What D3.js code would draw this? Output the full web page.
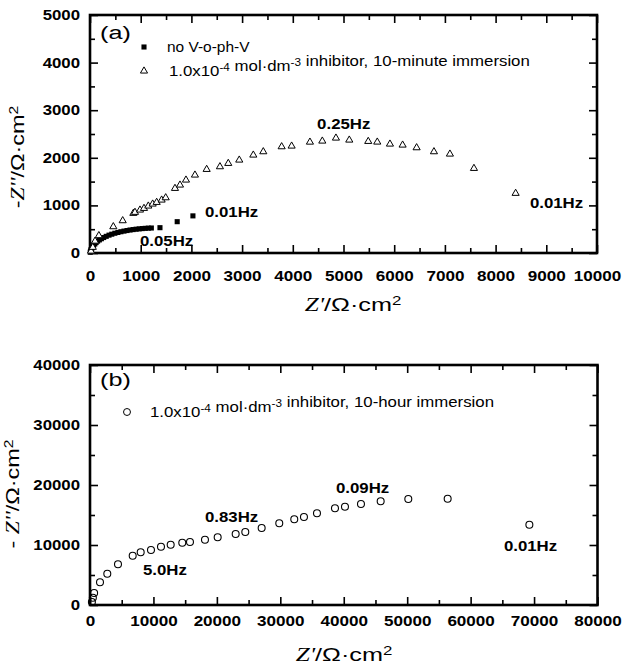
<!DOCTYPE html>
<html>
<head>
<meta charset="utf-8">
<script src="https://cdn.jsdelivr.net/npm/d3@7"></script>
<style>
  html, body { margin: 0; padding: 0; background: #fff; }
  svg { display: block; }
  .tick text { font-family: "Liberation Sans", Arial, sans-serif; font-weight: bold; font-size: 14px; fill: #000; }
  .domain { display: none; }
  .tick line { stroke: #000; stroke-width: 1.6; }
</style>
</head>
<body>
<script>
// Panel (a): impedance without inhibitor (filled squares) and after 10 min immersion (open triangles)
const noInhibitorRe = [5, 10, 20, 35, 50, 70, 95, 120, 150, 185, 225, 270, 320, 375, 430, 490, 550, 610, 670, 730, 790, 850, 910, 970, 1030, 1090, 1150, 1210, 1380, 1720, 2030];
const noInhibitorIm = [15, 40, 70, 100, 130, 160, 190, 220, 250, 275, 300, 325, 350, 375, 395, 415, 432, 447, 460, 472, 483, 492, 500, 507, 513, 518, 522, 525, 532, 658, 780];

const minuteRe = [20, 55, 100, 175, 460, 645, 855, 887, 986, 1065, 1150, 1236, 1315, 1413, 1493, 1676, 1775, 1893, 2070, 2301, 2563, 2727, 2944, 3221, 3418, 3780, 3977, 4338, 4582, 4851, 5114, 5488, 5666, 5916, 6166, 6442, 6784, 7099, 7573, 8395];
const minuteIm = [40, 120, 250, 365, 553, 679, 834, 855, 903, 938, 987, 1029, 1064, 1113, 1161, 1358, 1428, 1533, 1638, 1757, 1813, 1883, 1953, 2058, 2128, 2233, 2247, 2330, 2352, 2415, 2373, 2345, 2331, 2289, 2268, 2212, 2128, 2079, 1778, 1254];

// Panel (b): after 10 h immersion (open circles)
const hourRe = [300, 450, 650, 1576, 2727, 4413, 6730, 7990, 9613, 11190, 12718, 14545, 15760, 18124, 20125, 22962, 24480, 27060, 29836, 32200, 33728, 35780, 38617, 40193, 42715, 45820, 50175, 56380, 69260];
const hourIm = [500, 1200, 2000, 3783, 5217, 6783, 8217, 8783, 9167, 9717, 10050, 10383, 10500, 10883, 11283, 11833, 12167, 12833, 13617, 14283, 14667, 15283, 16117, 16383, 16833, 17283, 17667, 17717, 13383];

// Frequency annotations (text, Z', -Z'')
const freqLabelsA = [["0.25Hz", 4480, 2600], ["0.01Hz", 8677, 945], ["0.01Hz", 2268, 756], ["0.05Hz", 986, 147]];
const freqLabelsB = [["0.83Hz", 18124, 13890], ["5.0Hz", 8353, 5000], ["0.09Hz", 38770, 18720], ["0.01Hz", 65246, 9000]];

// Axis ticks
const xTicksA = d3.range(0, 10001, 1000);
const yTicksA = d3.range(0, 5001, 1000);
const xTicksB = d3.range(0, 80001, 10000);
const yTicksB = d3.range(0, 40001, 10000);

const W = 633, H = 669;
const svg = d3.select("body").append("svg").attr("width", W).attr("height", H);

const sans = '"Liberation Sans", Arial, sans-serif';
const serif = '"Liberation Serif", "Times New Roman", serif';

// Widen text horizontally (the figure's lettering is broad)
function stretch(sel, k) {
  sel.each(function () {
    const w = this.getComputedTextLength();
    d3.select(this).attr("textLength", w * k).attr("lengthAdjust", "spacingAndGlyphs");
  });
}

function frame(g, x, y, xTicks, yTicks, xMinor, yMinor, xPad) {
  const [x0, x1] = x.range();
  const [y0, y1] = y.range();
  // minor ticks on all four sides
  const minor = (axis, scale, vals) => axis(scale).tickValues(vals).tickSize(-5).tickFormat("");
  g.append("g").attr("transform", `translate(0,${y0})`).call(minor(d3.axisBottom, x, xMinor));
  g.append("g").attr("transform", `translate(0,${y1})`).call(minor(d3.axisTop, x, xMinor));
  g.append("g").attr("transform", `translate(${x0},0)`).call(minor(d3.axisLeft, y, yMinor));
  g.append("g").attr("transform", `translate(${x1},0)`).call(minor(d3.axisRight, y, yMinor));
  // major ticks with labels on bottom and left
  const bx = g.append("g").attr("transform", `translate(0,${y0})`)
    .call(d3.axisBottom(x).tickValues(xTicks).tickSize(-8).tickPadding(xPad).tickFormat(d3.format("d")));
  g.append("g").attr("transform", `translate(0,${y1})`)
    .call(d3.axisTop(x).tickValues(xTicks).tickSize(-8).tickFormat(""));
  const ly = g.append("g").attr("transform", `translate(${x0},0)`)
    .call(d3.axisLeft(y).tickValues(yTicks).tickSize(-8).tickPadding(10).tickFormat(d3.format("d")));
  g.append("g").attr("transform", `translate(${x1},0)`)
    .call(d3.axisRight(y).tickValues(yTicks).tickSize(-8).tickFormat(""));
  stretch(bx.selectAll("text"), 1.22);
  stretch(ly.selectAll("text"), 1.2);
  g.append("rect").attr("x", x0).attr("y", y1).attr("width", x1 - x0).attr("height", y0 - y1)
    .attr("fill", "none").attr("stroke", "#000").attr("stroke-width", 2.6);
}

function xTitle(g, cx, cy) {
  const t = g.append("text").attr("x", cx).attr("y", cy).attr("text-anchor", "middle")
    .attr("font-size", 18).attr("font-family", sans);
  t.append("tspan").attr("font-family", serif).attr("font-style", "italic").text("Z'");
  t.append("tspan").text("/Ω·cm");
  t.append("tspan").attr("font-size", 12).attr("dy", -6).text("2");
  stretch(t, 1.4);
}

function yTitle(g, cx, cy, lead) {
  const t = g.append("text").attr("transform", `translate(${cx},${cy}) rotate(-90)`)
    .attr("text-anchor", "middle").attr("font-size", 18).attr("font-family", sans);
  t.append("tspan").text(lead);
  t.append("tspan").attr("font-family", serif).attr("font-style", "italic").text("Z''");
  t.append("tspan").text("/Ω·cm");
  t.append("tspan").attr("font-size", 12).attr("dy", -6).text("2");
  stretch(t, 1.3);
}

function annotate(g, x, y, labels) {
  const t = g.selectAll(null).data(labels).join("text")
    .attr("x", d => x(d[1])).attr("y", d => y(d[2]))
    .attr("font-family", sans).attr("font-weight", "bold").attr("font-size", 15)
    .text(d => d[0]);
  stretch(t, 1.12);
}

// Legend entry: plain strings are normal text, {raised: "..."} parts are superscripts
function legendText(g, px, py, parts, k) {
  const t = g.append("text").attr("x", px).attr("y", py).attr("font-family", sans).attr("font-size", 15);
  parts.forEach(p => {
    if (typeof p === "string") {
      t.append("tspan").text(p);
    } else {
      t.append("tspan").attr("font-size", 10.5).attr("dy", -5).text(p.raised);
      t.append("tspan").attr("dy", 5).text("");
    }
  });
  stretch(t, k);
}

function panelTag(g, px, py, s) {
  const t = g.append("text").attr("x", px).attr("y", py).attr("font-family", sans).attr("font-size", 18).text(s);
  stretch(t, 1.4);
}

const inhibitorParts = ["1.0x10", { raised: "-4" }, " mol·dm", { raised: "-3" }];

// ---------- Panel (a) ----------
const ga = svg.append("g");
const xa = d3.scaleLinear().domain([0, 10000]).range([90, 597]);
const ya = d3.scaleLinear().domain([0, 5000]).range([253, 15]);
frame(ga, xa, ya, xTicksA, yTicksA, d3.range(500, 10000, 1000), d3.range(500, 5000, 1000), 18);

const sq = d3.symbol().type(d3.symbolSquare).size(26);
const tri = d3.symbol().type(d3.symbolTriangle).size(22);
const circ = d3.symbol().type(d3.symbolCircle).size(38);

ga.selectAll(null).data(d3.zip(noInhibitorRe, noInhibitorIm)).join("path")
  .attr("d", sq).attr("transform", d => `translate(${xa(d[0])},${ya(d[1])})`).attr("fill", "#000");
ga.selectAll(null).data(d3.zip(minuteRe, minuteIm)).join("path")
  .attr("d", tri).attr("transform", d => `translate(${xa(d[0])},${ya(d[1])})`)
  .attr("fill", "#fff").attr("stroke", "#000").attr("stroke-width", 1);
annotate(ga, xa, ya, freqLabelsA);

panelTag(ga, 100, 39, "(a)");
ga.append("path").attr("d", sq).attr("transform", "translate(144,47)").attr("fill", "#000");
legendText(ga, 167, 52, ["no V-o-ph-V"], 1.03);
ga.append("path").attr("d", tri).attr("transform", "translate(144,71)").attr("fill", "#fff").attr("stroke", "#000");
legendText(ga, 169, 76, [...inhibitorParts, " inhibitor, 10-minute immersion"], 1.12);

xTitle(ga, 353, 311);
yTitle(ga, 24, 157, "-");

// ---------- Panel (b) ----------
const gb = svg.append("g");
const xb = d3.scaleLinear().domain([0, 80000]).range([90, 597.5]);
const yb = d3.scaleLinear().domain([0, 40000]).range([605, 365]);
frame(gb, xb, yb, xTicksB, yTicksB, d3.range(5000, 80000, 10000), d3.range(5000, 40000, 10000), 11);

gb.selectAll(null).data(d3.zip(hourRe, hourIm)).join("path")
  .attr("d", circ).attr("transform", d => `translate(${xb(d[0])},${yb(d[1])})`)
  .attr("fill", "none").attr("stroke", "#000").attr("stroke-width", 1.1);
annotate(gb, xb, yb, freqLabelsB);

panelTag(gb, 100, 386, "(b)");
gb.append("path").attr("d", circ).attr("transform", "translate(127,412)").attr("fill", "none").attr("stroke", "#000");
legendText(gb, 150, 417, [...inhibitorParts, " inhibitor, 10-hour immersion"], 1.12);

xTitle(gb, 344, 661);
yTitle(gb, 19, 494, "- ");
</script>
</body>
</html>
